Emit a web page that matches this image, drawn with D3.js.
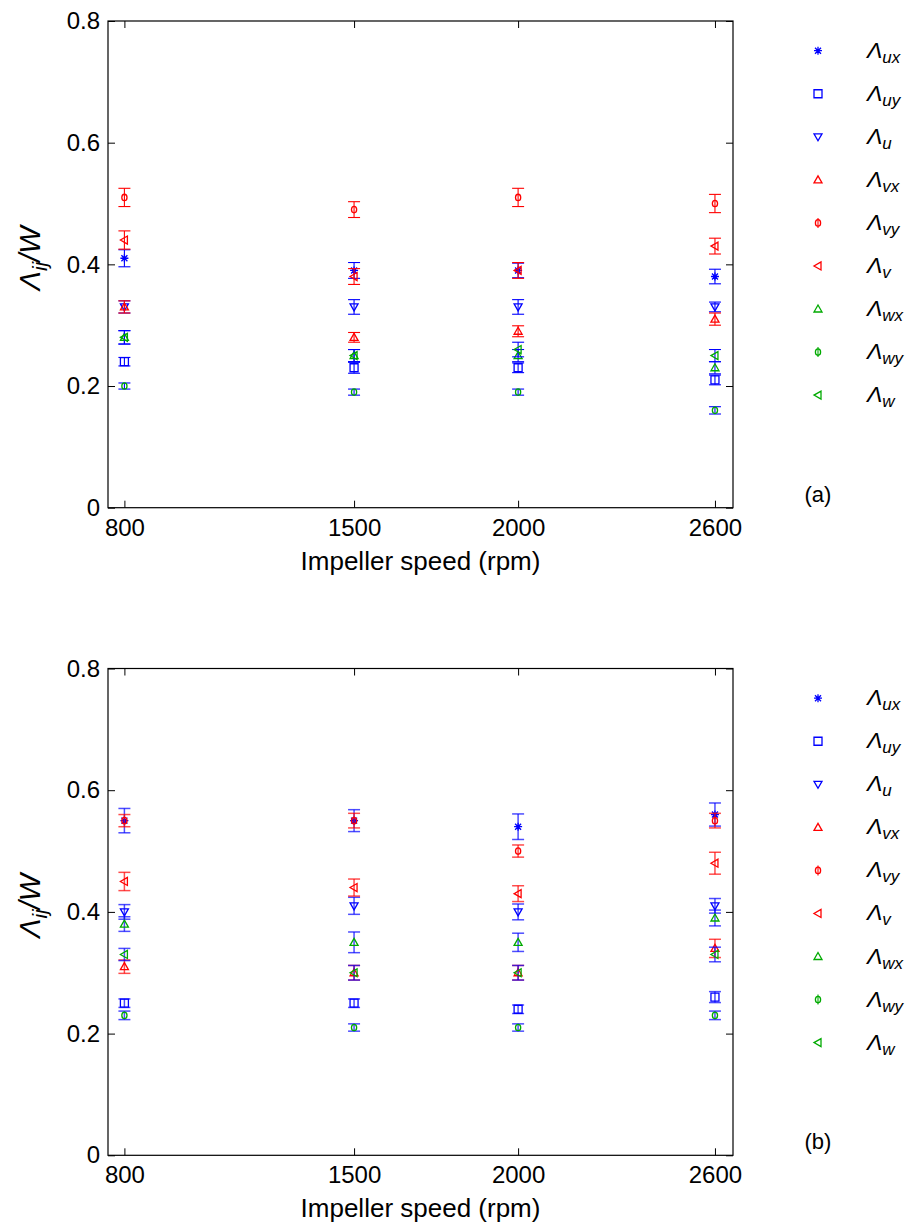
<!DOCTYPE html>
<html><head><meta charset="utf-8">
<script src="https://cdn.jsdelivr.net/npm/d3@7"></script>
<style>
body{margin:0;background:#fff}
svg{display:block}
text{font-family:"Liberation Sans",Arial,sans-serif;fill:#000}
</style>
</head><body>
<svg id="fig" width="906" height="1223"></svg>
<script>
// Impeller speeds (rpm) and axis ticks
const speeds = [800, 1500, 2000, 2600];
const xTickValues = [800, 1500, 2000, 2600];
const yTickValues = [0, 0.2, 0.4, 0.6, 0.8];
const yTickLabels = ["0", "0.2", "0.4", "0.6", "0.8"];

// Series: subscript, marker colour, marker shape, error-bar colour
const seriesSubs = ["ux", "uy", "u", "vx", "vy", "v", "wx", "wy", "w"];
const seriesColors = ["#0000ff", "#0000ff", "#0000ff", "#ff0000", "#ff0000", "#ff0000", "#00aa00", "#00aa00", "#00aa00"];
const seriesShapes = ["star", "square", "triDown", "triUp", "circle", "triLeft", "triUp", "circle", "triLeft"];
const errorColors = ["#0000ff", "#0000ff", "#0000ff", "#ff0000", "#ff0000", "#ff0000", "#0000ff", "#0000ff", "#0000ff"];

// Panel (a): Λij/W means and half-widths of the error bars
const aUx = [0.41, 0.39, 0.39, 0.38];  const aUxErr = [0.014, 0.013, 0.012, 0.012];
const aUy = [0.24, 0.23, 0.23, 0.21];  const aUyErr = [0.007, 0.009, 0.008, 0.008];
const aU  = [0.33, 0.33, 0.33, 0.33];  const aUErr  = [0.010, 0.012, 0.012, 0.008];
const aVx = [0.33, 0.28, 0.29, 0.31];  const aVxErr = [0.010, 0.008, 0.009, 0.010];
const aVy = [0.51, 0.49, 0.51, 0.50];  const aVyErr = [0.015, 0.013, 0.015, 0.015];
const aV  = [0.44, 0.38, 0.39, 0.43];  const aVErr  = [0.015, 0.013, 0.013, 0.013];
const aWx = [0.28, 0.25, 0.25, 0.23];  const aWxErr = [0.011, 0.010, 0.010, 0.010];
const aWy = [0.20, 0.19, 0.19, 0.16];  const aWyErr = [0.005, 0.005, 0.005, 0.006];
const aW  = [0.28, 0.25, 0.26, 0.25];  const aWErr  = [0.011, 0.010, 0.012, 0.010];

// Panel (b)
const bUx = [0.55, 0.55, 0.54, 0.56];  const bUxErr = [0.020, 0.018, 0.021, 0.019];
const bUy = [0.25, 0.25, 0.24, 0.26];  const bUyErr = [0.007, 0.007, 0.007, 0.009];
const bU  = [0.40, 0.41, 0.40, 0.41];  const bUErr  = [0.012, 0.014, 0.013, 0.012];
const bVx = [0.31, 0.30, 0.30, 0.34];  const bVxErr = [0.011, 0.012, 0.012, 0.015];
const bVy = [0.55, 0.55, 0.50, 0.55];  const bVyErr = [0.010, 0.012, 0.010, 0.012];
const bV  = [0.45, 0.44, 0.43, 0.48];  const bVErr  = [0.015, 0.014, 0.013, 0.018];
const bWx = [0.38, 0.35, 0.35, 0.39];  const bWxErr = [0.012, 0.017, 0.015, 0.013];
const bWy = [0.23, 0.21, 0.21, 0.23];  const bWyErr = [0.007, 0.006, 0.006, 0.007];
const bW  = [0.33, 0.30, 0.30, 0.33];  const bWErr  = [0.010, 0.012, 0.012, 0.012];

const panelA = {
  label: "(a)", top: 21, bottom: 507.7,
  values: [aUx, aUy, aU, aVx, aVy, aV, aWx, aWy, aW],
  errors: [aUxErr, aUyErr, aUErr, aVxErr, aVyErr, aVErr, aWxErr, aWyErr, aWErr],
  barOpacity: 1
};
const panelB = {
  label: "(b)", top: 668.5, bottom: 1155.3,
  values: [bUx, bUy, bU, bVx, bVy, bV, bWx, bWy, bW],
  errors: [bUxErr, bUyErr, bUErr, bVxErr, bVyErr, bVErr, bWxErr, bWyErr, bWErr],
  barOpacity: 0.7
};

const left = 108, right = 733;
const svg = d3.select("#fig");

function markerPath(shape) {
  switch (shape) {
    case "star":    return "M-4,0H4M0,-4V4M-3,-3L3,3M-3,3L3,-3";
    case "square":  return "M-4,-4H4V4H-4Z";
    case "triDown": return "M-4,-3H4L0,4Z";
    case "triUp":   return "M-4,3H4L0,-4Z";
    case "triLeft": return "M3,-4V4L-4,0Z";
  }
  return null;
}

function drawMarker(g, shape, color, cx, cy) {
  if (shape === "circle") {
    g.append("ellipse").attr("cx", cx).attr("cy", cy).attr("rx", 2.6).attr("ry", 3.2)
      .attr("fill", "none").attr("stroke", color).attr("stroke-width", 1.3);
  } else {
    g.append("path").attr("d", markerPath(shape))
      .attr("transform", `translate(${cx},${cy})`)
      .attr("fill", "none").attr("stroke", color).attr("stroke-width", 1.3)
      .attr("stroke-linejoin", "miter");
  }
}

function drawPanel(p) {
  const x = d3.scaleLinear().domain([750, 2655]).range([left, right]);
  const y = d3.scaleLinear().domain([0, 0.8]).range([p.bottom, p.top]);
  const g = svg.append("g");

  // Frame and inward ticks on all four sides
  const tl = 7;
  g.append("g").attr("transform", `translate(0,${p.bottom})`)
    .call(d3.axisBottom(x).tickValues(xTickValues).tickSizeInner(-tl).tickSizeOuter(0).tickPadding(11)
      .tickFormat(d3.format("d")))
    .call(a => { a.select(".domain").remove(); a.selectAll("text").attr("font-size", 24).attr("dy", "0.71em"); });
  g.append("g").attr("transform", `translate(0,${p.top})`)
    .call(d3.axisTop(x).tickValues(xTickValues).tickSizeInner(-tl).tickSizeOuter(0).tickFormat(""))
    .call(a => a.select(".domain").remove());
  g.append("g").attr("transform", `translate(${left},0)`)
    .call(d3.axisLeft(y).tickValues(yTickValues).tickSizeInner(-tl).tickSizeOuter(0).tickPadding(8)
      .tickFormat((d, i) => yTickLabels[i]))
    .call(a => { a.select(".domain").remove(); a.selectAll("text").attr("font-size", 24); });
  g.append("g").attr("transform", `translate(${right},0)`)
    .call(d3.axisRight(y).tickValues(yTickValues).tickSizeInner(-tl).tickSizeOuter(0).tickFormat(""))
    .call(a => a.select(".domain").remove());
  g.selectAll(".tick line").attr("stroke", "#000");
  g.append("rect").attr("x", left).attr("y", p.top).attr("width", right - left).attr("height", p.bottom - p.top)
    .attr("fill", "none").attr("stroke", "#000").attr("stroke-width", 1.2);

  // Error bars and markers, series by series
  const cap = 6;
  const plot = g.append("g");
  seriesSubs.forEach((s, i) => {
    const vals = p.values[i], errs = p.errors[i];
    const sg = plot.append("g");
    speeds.forEach((sp, k) => {
      const cx = x(sp), y0 = y(vals[k] - errs[k]), y1 = y(vals[k] + errs[k]);
      const eb = sg.append("g").attr("stroke", errorColors[i]).attr("stroke-width", p.barOpacity < 1 ? 1.5 : 1.1)
        .attr("stroke-opacity", p.barOpacity).attr("fill", "none");
      eb.append("line").attr("x1", cx).attr("x2", cx).attr("y1", y0).attr("y2", y1);
      eb.append("line").attr("x1", cx - cap).attr("x2", cx + cap).attr("y1", y0).attr("y2", y0);
      eb.append("line").attr("x1", cx - cap).attr("x2", cx + cap).attr("y1", y1).attr("y2", y1);
      drawMarker(sg, seriesShapes[i], seriesColors[i], cx, y(vals[k]));
    });
  });

  // Axis titles
  g.append("text").attr("x", (left + right) / 2).attr("y", p.bottom + 62)
    .attr("text-anchor", "middle").attr("font-size", 26).text("Impeller speed (rpm)");
  const yl = g.append("text")
    .attr("transform", `translate(40,${(p.top + p.bottom) / 2 - 6}) rotate(-90)`)
    .attr("text-anchor", "middle").attr("font-size", 29).attr("font-style", "italic");
  yl.append("tspan").text("Λ");
  yl.append("tspan").attr("font-size", 21).attr("dy", 7).text("ij");
  yl.append("tspan").attr("dy", -7).text("/W");

  // Legend
  const lg = g.append("g");
  seriesSubs.forEach((s, i) => {
    const ly = p.top + 29.7 + i * 43.05;
    if (seriesShapes[i] === "circle") {
      lg.append("line").attr("x1", 818).attr("x2", 818).attr("y1", ly - 5).attr("y2", ly + 5)
        .attr("stroke", seriesColors[i]).attr("stroke-width", 1.1);
    }
    drawMarker(lg, seriesShapes[i], seriesColors[i], 818, ly);
    const t = lg.append("text").attr("x", 867).attr("y", ly + 7).attr("font-size", 23).attr("font-style", "italic");
    t.append("tspan").text("Λ");
    t.append("tspan").attr("font-size", 17).attr("dy", 5).text(s);
  });

  g.append("text").attr("x", 818).attr("y", p.bottom - 6).attr("text-anchor", "middle")
    .attr("font-size", 22).text(p.label);
}

drawPanel(panelA);
drawPanel(panelB);
</script>
</body></html>
